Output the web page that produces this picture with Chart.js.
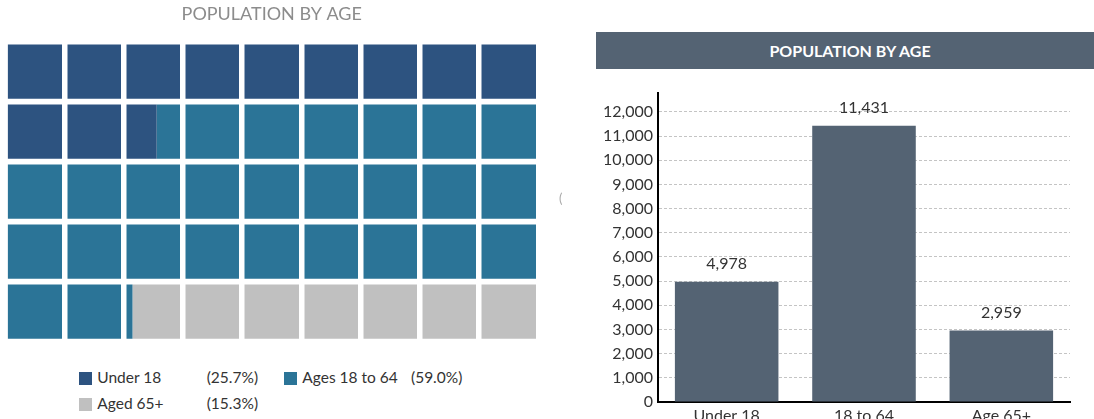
<!DOCTYPE html>
<html><head><meta charset="utf-8">
<script src="https://cdn.jsdelivr.net/npm/chart.js@4.4.1/dist/chart.umd.min.js"></script>
<style>
html,body{margin:0;padding:0;background:#fff;}
body{width:1094px;height:419px;position:relative;overflow:hidden;font-family:Lato, sans-serif;}
#waffle{position:absolute;left:0;top:0;}
#bars{position:absolute;left:560px;top:69px;}
.hdr{position:absolute;left:596px;top:32px;width:508px;height:37px;background:#546373;color:#fff;font-weight:bold;font-size:16px;line-height:37px;text-align:center;}
.lg{position:absolute;font-size:15.5px;line-height:18px;color:#333;white-space:nowrap;}
.box{position:absolute;width:13px;height:13px;}
.mark{position:absolute;left:559px;top:190px;font-size:13px;color:#aaa;}
</style></head><body>
<canvas id="waffle" width="545" height="345"></canvas>
<div class="hdr" id="hdr"></div>
<canvas id="bars" width="534" height="350"></canvas>
<div id="legend"></div>
<div class="mark">(</div>
<script>
// ---- data ----
const wafTitle = 'POPULATION BY AGE';
const wafCategories = ['Under 18', 'Ages 18 to 64', 'Aged 65+'];
const wafPercents = [25.7, 59.0, 15.3];
const wafColors = ['#2d5380', '#2b7497', '#c0c0c0'];
const wafColumns = 9;
const wafRows = 5;

const barTitle = 'POPULATION BY AGE';
const barCategories = ['Under 18', '18 to 64', 'Age 65+'];
const barValues = [4978, 11431, 2959];
const yTickValues = [0, 1000, 2000, 3000, 4000, 5000, 6000, 7000, 8000, 9000, 10000, 11000, 12000];

Chart.defaults.font.family = 'Lato, sans-serif';

// ---- waffle ----
const totalCells = wafColumns * wafRows;
const gapFrac = 0.093;
function cellPos(v) {
  const c = Math.floor(v + 1e-9);
  const f = v - c;
  if (f < 1e-6) return v;
  return c + gapFrac / 2 + f * (1 - gapFrac);
}
const rowLabels = Array.from({length: wafRows}, (_, i) => 'row' + (i + 1));
let cum = 0;
const wafDatasets = wafCategories.map((name, i) => {
  const s = cum / 100 * totalCells;
  cum += wafPercents[i];
  const e = cum / 100 * totalCells;
  const data = [];
  for (let r = 0; r < wafRows; r++) {
    const a = Math.max(s, r * wafColumns), b = Math.min(e, (r + 1) * wafColumns);
    if (b > a) data.push({y: rowLabels[r], x: [cellPos(a - r * wafColumns), cellPos(b - r * wafColumns)]});
  }
  return {label: name, data, backgroundColor: wafColors[i], grouped: false,
          barPercentage: 0.905, categoryPercentage: 1, borderWidth: 0};
});

new Chart(document.getElementById('waffle'), {
  type: 'bar',
  data: {labels: rowLabels, datasets: wafDatasets},
  options: {
    indexAxis: 'y', responsive: false, animation: false,
    layout: {padding: {left: 5, right: 6.5, top: 0, bottom: 3.3}},
    plugins: {
      legend: {display: false}, tooltip: {enabled: false},
      title: {display: true, text: wafTitle, color: '#8c8c8c',
              font: {size: 18, weight: 'normal'}, padding: {top: 3, bottom: 17.1}}
    },
    scales: {
      x: {min: 0, max: wafColumns, ticks: {display: false, stepSize: 1},
          grid: {color: '#ffffff', lineWidth: 5.5, drawTicks: false, z: 1},
          border: {display: false}},
      y: {display: false}
    }
  }
});

// legend (html text)
const legend = document.getElementById('legend');
const boxX = [78.5, 283.5], pctX = [206.7, 411];
wafCategories.forEach((name, i) => {
  const col = i % 2, row = Math.floor(i / 2);
  const box = document.createElement('div');
  box.className = 'box';
  box.style.left = boxX[col] + 'px'; box.style.top = (372 + row * 26) + 'px';
  box.style.background = wafColors[i];
  legend.appendChild(box);
  const t = document.createElement('div');
  t.className = 'lg'; t.textContent = name;
  t.style.left = (boxX[col] + 18.8) + 'px'; t.style.top = (367.5 + row * 26) + 'px';
  legend.appendChild(t);
  const p = document.createElement('div');
  p.className = 'lg'; p.textContent = '(' + wafPercents[i].toFixed(1) + '%)';
  p.style.left = pctX[col] + 'px'; p.style.top = (367.5 + row * 26) + 'px';
  legend.appendChild(p);
});

// ---- bar chart ----
document.getElementById('hdr').textContent = barTitle;
const fmt = v => Number(v).toLocaleString('en-US');
const valueLabels = {
  id: 'valueLabels',
  afterDatasetsDraw(chart) {
    const ctx = chart.ctx;
    const meta = chart.getDatasetMeta(0);
    ctx.save();
    ctx.font = '16px Lato, sans-serif';
    ctx.fillStyle = '#333';
    ctx.textAlign = 'center';
    ctx.textBaseline = 'middle';
    meta.data.forEach((bar, i) => ctx.fillText(fmt(barValues[i]), bar.x, bar.y - 17.5));
    ctx.restore();
  }
};

new Chart(document.getElementById('bars'), {
  type: 'bar',
  data: {labels: barCategories,
         datasets: [{data: barValues, backgroundColor: '#546373', barPercentage: 0.754, categoryPercentage: 1}]},
  options: {
    responsive: false, animation: false,
    layout: {padding: {top: 23.6, right: 24, left: 0, bottom: 0}},
    plugins: {legend: {display: false}, tooltip: {enabled: false}},
    scales: {
      x: {grid: {display: false, drawTicks: false},
          border: {color: '#000', width: 2},
          ticks: {color: '#333', font: {size: 16}, padding: 4},
          afterFit(s) { s.height = 17; }},
      y: {min: 0, max: 12800,
          afterBuildTicks(s) { s.ticks = yTickValues.map(v => ({value: v})); },
          ticks: {color: '#333', font: {size: 16}, padding: 5, callback: v => fmt(v)},
          grid: {color: '#c4c4c4', drawTicks: false, lineWidth: 1},
          border: {color: '#000', width: 2, dash: [3, 2]},
          afterFit(s) { s.width = 98; }}
    }
  },
  plugins: [valueLabels]
});
</script>
</body></html>
